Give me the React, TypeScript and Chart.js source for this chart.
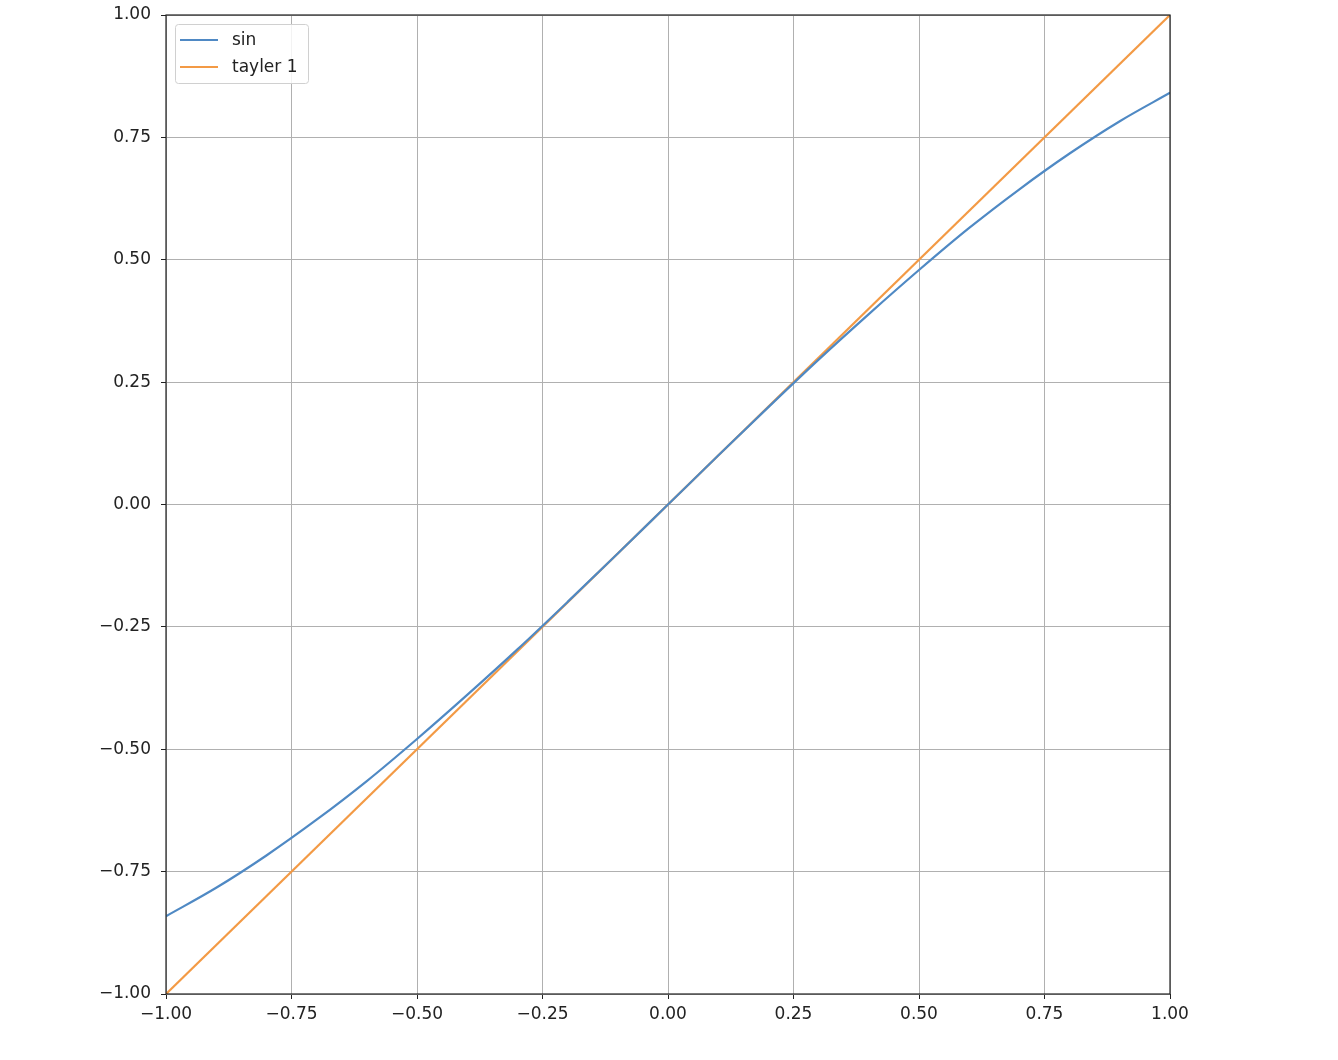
import React, { useEffect, useRef } from "react";
import { Chart, registerables } from "chart.js";

Chart.register(...registerables);

// x positions and values
const xValues = [-1.0, -0.9, -0.8, -0.7, -0.6, -0.5, -0.4, -0.3, -0.2, -0.1, 0.0, 0.1, 0.2, 0.3, 0.4, 0.5, 0.6, 0.7, 0.8, 0.9, 1.0];
const sinValues = [-0.841, -0.783, -0.717, -0.644, -0.565, -0.479, -0.389, -0.296, -0.199, -0.1, 0.0, 0.1, 0.199, 0.296, 0.389, 0.479, 0.565, 0.644, 0.717, 0.783, 0.841];
const taylorX = [-1.0, 1.0];
const taylorValues = [-1.0, 1.0];
const seriesLabels = ["sin", "tayler 1"];
const seriesColors = ["#4f89c4", "#f39a45"];
const tickValues = [-1.0, -0.75, -0.5, -0.25, 0.0, 0.25, 0.5, 0.75, 1.0];

const FONT = "'DejaVu Sans', sans-serif";
const FONT_SIZE = 17;

const fmt = (v: number) => {
  const s = Math.abs(v).toFixed(2);
  return v < -1e-9 ? "\u2212" + s : s;
};

const boxAndLegend = {
  id: "boxAndLegend",
  afterDraw(chart: any) {
    const { ctx, chartArea } = chart;
    const { left, right, top, bottom } = chartArea;
    ctx.save();
    // frame
    ctx.strokeStyle = "#222";
    ctx.lineWidth = 1.2;
    ctx.strokeRect(left, top, right - left, bottom - top);
    // legend
    const bx = left + 9.5, by = top + 9.5, bw = 133, bh = 59;
    ctx.fillStyle = "rgba(255,255,255,0.85)";
    ctx.strokeStyle = "#d0d0d0";
    ctx.lineWidth = 1;
    ctx.beginPath();
    (ctx as any).roundRect(bx, by, bw, bh, 3);
    ctx.fill();
    ctx.stroke();
    ctx.font = FONT_SIZE + "px " + FONT;
    ctx.textBaseline = "middle";
    ctx.textAlign = "left";
    chart.data.datasets.forEach((ds: any, i: number) => {
      const y = top + 25 + i * 27;
      ctx.strokeStyle = ds.borderColor;
      ctx.lineWidth = 2.2;
      ctx.beginPath();
      ctx.moveTo(left + 14, y);
      ctx.lineTo(left + 52, y);
      ctx.stroke();
      ctx.fillStyle = "#222";
      ctx.fillText(ds.label, left + 66, y + 1);
    });
    ctx.restore();
  },
};

export default function App() {
  const ref = useRef<HTMLCanvasElement>(null);
  useEffect(() => {
    if (!ref.current) return;
    const chart = new Chart(ref.current, {
      type: "line",
      data: {
        datasets: [
          {
            label: seriesLabels[0],
            data: xValues.map((x, i) => ({ x, y: sinValues[i] })),
            borderColor: seriesColors[0],
            borderWidth: 2.2,
            pointRadius: 0,
            cubicInterpolationMode: "monotone",
            fill: false,
          },
          {
            label: seriesLabels[1],
            data: taylorX.map((x, i) => ({ x, y: taylorValues[i] })),
            borderColor: seriesColors[1],
            borderWidth: 2.2,
            pointRadius: 0,
            fill: false,
          },
        ],
      },
      options: {
        animation: false,
        responsive: false,
        maintainAspectRatio: false,
        layout: { padding: { top: 15, right: 168, left: 0, bottom: 0 } },
        plugins: { legend: { display: false }, tooltip: { enabled: false } },
        scales: {
          x: {
            type: "linear",
            min: -1,
            max: 1,
            afterBuildTicks: (axis: any) => {
              axis.ticks = tickValues.map((v) => ({ value: v }));
            },
            afterFit: (axis: any) => {
              axis.height = 66;
              axis.paddingLeft = 0;
              axis.paddingRight = 0;
            },
            ticks: {
              callback: (v: any) => fmt(Number(v)),
              font: { family: FONT, size: FONT_SIZE },
              color: "#222",
              padding: 5,
              maxRotation: 0,
            },
            grid: { color: "#b0b0b0", lineWidth: 1, tickLength: 5, tickColor: "#222", drawTicks: true },
            border: { display: false },
          },
          y: {
            type: "linear",
            min: -1,
            max: 1,
            afterBuildTicks: (axis: any) => {
              axis.ticks = tickValues.map((v) => ({ value: v }));
            },
            afterFit: (axis: any) => {
              axis.width = 166;
              axis.paddingTop = 0;
              axis.paddingBottom = 0;
            },
            ticks: {
              callback: (v: any) => fmt(Number(v)),
              font: { family: FONT, size: FONT_SIZE, lineHeight: 1.0 },
              color: "#222",
              padding: 10,
            },
            grid: { color: "#b0b0b0", lineWidth: 1, tickLength: 5, tickColor: "#222", drawTicks: true },
            border: { display: false },
          },
        },
      },
      plugins: [boxAndLegend],
    } as any);
    return () => chart.destroy();
  }, []);
  return (
    <div style={{ position: "absolute", left: 0, top: 0, width: 1338, height: 1060, background: "#fff" }}>
      <canvas ref={ref} width={1338} height={1060} style={{ width: 1338, height: 1060 }} />
    </div>
  );
}
